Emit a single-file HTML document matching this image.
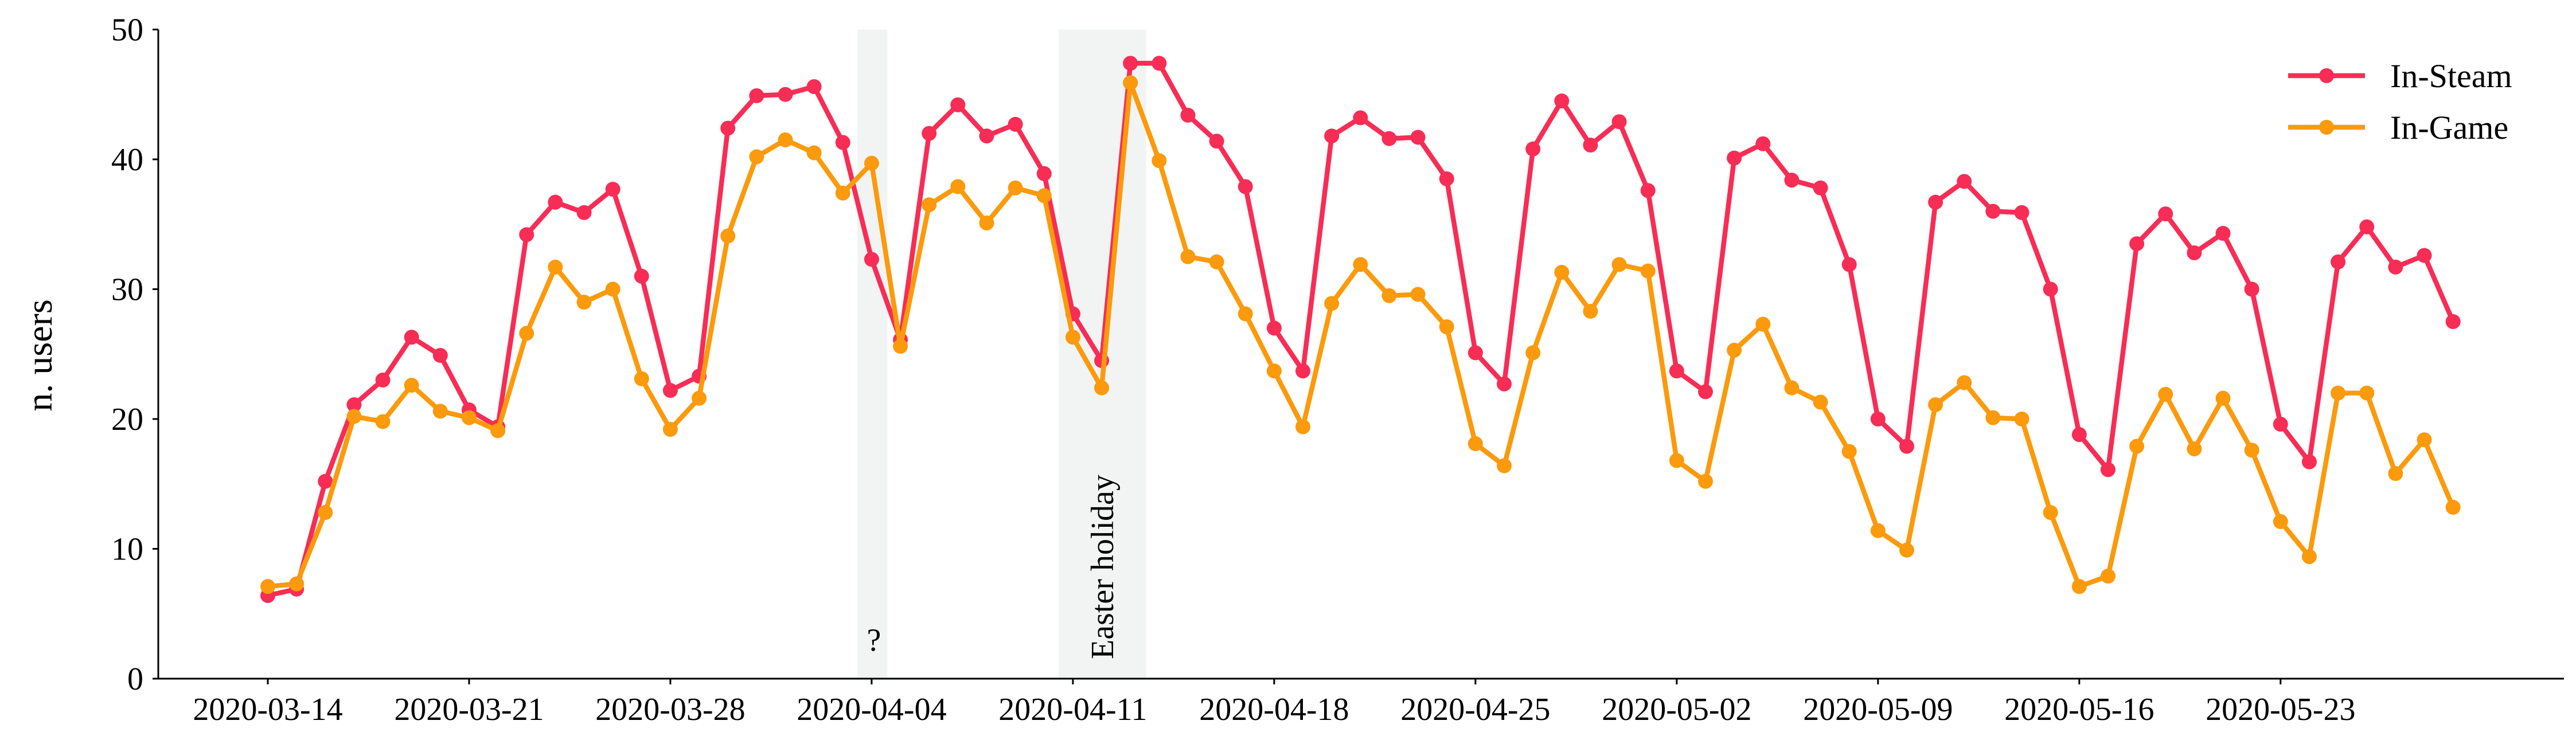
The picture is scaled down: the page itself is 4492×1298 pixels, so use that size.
<!DOCTYPE html>
<html><head><meta charset="utf-8"><style>
body{margin:0;background:#fff}
svg{display:block;font-family:"Liberation Serif",serif}
</style></head><body>
<svg id="chart" width="4492" height="1298" viewBox="0 0 4492 1298" xmlns="http://www.w3.org/2000/svg"></svg>
<script>
const steamValues=[6.4,6.9,15.2,21.1,23.0,26.3,24.9,20.7,19.4,34.2,36.7,35.9,37.7,31.0,22.2,23.3,42.4,44.9,45.0,45.6,41.3,32.3,26.1,42.0,44.2,41.8,42.7,38.9,28.1,24.5,47.4,47.4,43.4,41.4,37.9,27.0,23.7,41.8,43.2,41.6,41.7,38.5,25.1,22.7,40.8,44.5,41.1,42.9,37.6,23.7,22.1,40.1,41.2,38.4,37.8,31.9,20.0,17.9,36.7,38.3,36.0,35.9,30.0,18.8,16.1,33.5,35.8,32.8,34.3,30.0,19.6,16.7,32.1,34.8,31.7,32.6,27.5];
const gameValues=[7.1,7.3,12.8,20.2,19.8,22.6,20.6,20.1,19.1,26.6,31.7,29.0,30.0,23.1,19.2,21.6,34.1,40.2,41.5,40.5,37.4,39.7,25.6,36.5,37.9,35.1,37.8,37.2,26.3,22.4,45.9,39.9,32.5,32.1,28.1,23.7,19.4,28.9,31.9,29.5,29.6,27.1,18.1,16.4,25.1,31.3,28.3,31.9,31.4,16.8,15.2,25.3,27.3,22.4,21.3,17.5,11.4,9.9,21.1,22.8,20.1,20.0,12.8,7.1,7.9,17.9,21.9,17.7,21.6,17.6,12.1,9.4,22.0,22.0,15.8,18.4,13.2];
const xTickLabels=["2020-03-14","2020-03-21","2020-03-28","2020-04-04","2020-04-11","2020-04-18","2020-04-25","2020-05-02","2020-05-09","2020-05-16","2020-05-23"];
const xTickDays=[0,7,14,21,28,35,42,49,56,63,70];
const yTicks=[0,10,20,30,40,50];
const spans=[[20.5,21.55,"?"],[27.5,30.55,"Easter holiday"]];

const svg=document.getElementById('chart');
const NS="http://www.w3.org/2000/svg";
const X0=467,DX=50.14,Y0=1184,Y50=51.5;
const xs=d=>X0+d*DX;
const ys=v=>Y0+(Y50-Y0)*v/50;
function mk(tag,attrs,parent){const e=document.createElementNS(NS,tag);for(const k in attrs)e.setAttribute(k,attrs[k]);(parent||svg).appendChild(e);return e;}

spans.forEach((s,i)=>{
  const r=mk('rect',{x:xs(s[0]),y:Y50,width:xs(s[1])-xs(s[0]),height:Y0-Y50,fill:'#f2f4f4'});
  
  
});
const q=mk('text',{x:xs(21)+4,y:1135,'font-size':56,'text-anchor':'middle'});q.textContent='?';


const eh=mk('text',{transform:`translate(${xs(29)+20},1150) rotate(-90)`,'font-size':56});eh.textContent='Easter holiday';



function series(vals,color,name){
  const g=mk('g',{});
  
  
  const pl=mk('polyline',{points:vals.map((v,i)=>xs(i)+','+ys(v)).join(' '),fill:'none',stroke:color,'stroke-width':8.5,'stroke-linejoin':'round'},g);
  
  
  vals.forEach((v,i)=>{const c=mk('circle',{cx:xs(i),cy:ys(v),r:13,fill:color},g);
    
    });
}
series(steamValues,'#f72d55','in-steam');
series(gameValues,'#fb9a0c','in-game');

// axes
const ax=mk('path',{d:`M276,${Y50} V${Y0} H4471`,stroke:'#000','stroke-width':3,fill:'none'});


yTicks.forEach(v=>{
  mk('line',{x1:266,x2:276,y1:ys(v),y2:ys(v),stroke:'#000','stroke-width':3});
  const t=mk('text',{x:250,y:ys(v)+19,'font-size':56,'text-anchor':'end'});t.textContent=v;
  
  
});
xTickDays.forEach((d,i)=>{
  mk('line',{x1:xs(d),x2:xs(d),y1:Y0,y2:Y0+10,stroke:'#000','stroke-width':3});
  const t=mk('text',{x:xs(d),y:1256,'font-size':56,'text-anchor':'middle'});t.textContent=xTickLabels[i];
  
  
});
const yl=mk('text',{transform:'translate(90,620) rotate(-90)','font-size':64,'text-anchor':'middle'});yl.textContent='n.  users';



// legend
[['In-Steam','#f72d55',132],['In-Game','#fb9a0c',222]].forEach(l=>{
  const g=mk('g',{});
  
  
  mk('line',{x1:3990,x2:4124,y1:l[2],y2:l[2],stroke:l[1],'stroke-width':8.5},g);
  mk('circle',{cx:4057,cy:l[2],r:13,fill:l[1]},g);
  const t=mk('text',{x:4168,y:l[2]+20,'font-size':58},g);t.textContent=l[0];
});
</script>
</body></html>
